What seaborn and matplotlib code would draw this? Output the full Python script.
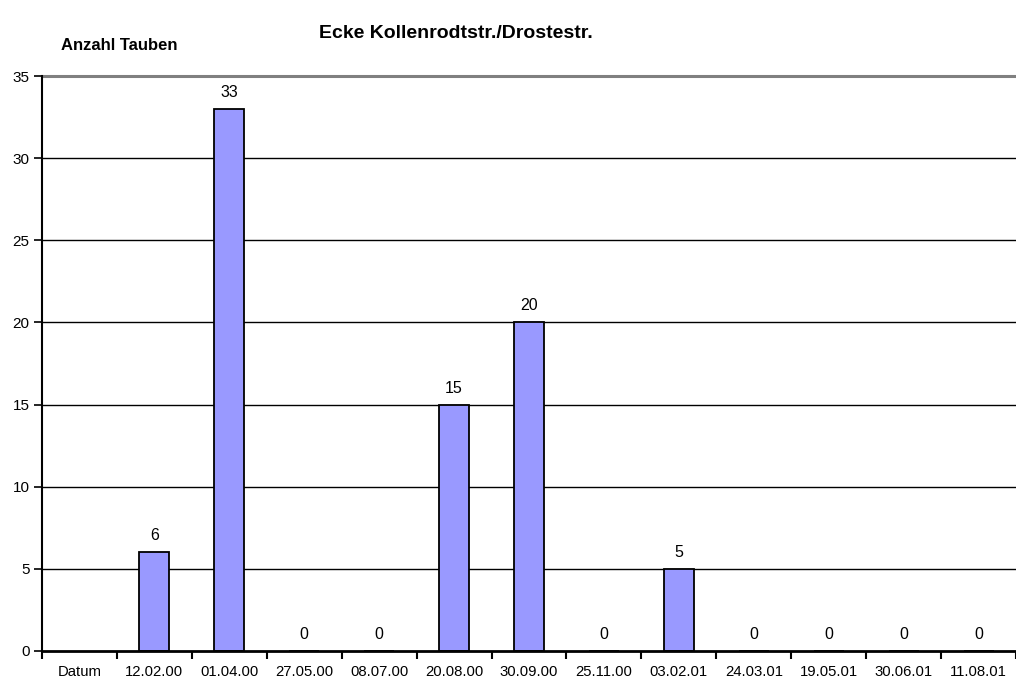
import numpy as np
import pandas as pd
import matplotlib
matplotlib.use("Agg")
import matplotlib.pyplot as plt
import seaborn as sns
from matplotlib.ticker import FixedLocator

sns.set_theme(style="white")
plt.rcParams['font.family'] = ['Liberation Sans', 'DejaVu Sans']
plt.rcParams['text.color'] = 'black'
plt.rcParams['xtick.color'] = 'black'
plt.rcParams['ytick.color'] = 'black'

# Counts per survey date; the leading "Datum" slot carries no value
dates = ["Datum", "12.02.00", "01.04.00", "27.05.00", "08.07.00", "20.08.00",
         "30.09.00", "25.11.00", "03.02.01", "24.03.01", "19.05.01",
         "30.06.01", "11.08.01"]
counts = [np.nan, 6, 33, 0, 0, 15, 20, 0, 5, 0, 0, 0, 0]

title = "Ecke Kollenrodtstr./Drostestr."
ylabel = "Anzahl Tauben"
yticks = [0, 5, 10, 15, 20, 25, 30, 35]

df = pd.DataFrame({"Datum": dates, "Anzahl": counts})

fig = plt.figure(figsize=(10.16, 6.84), dpi=100)
ax = fig.add_axes([42 / 1016, 33 / 684, 1 - 42 / 1016, (651 - 76) / 684])

sns.barplot(data=df, x="Datum", y="Anzahl", order=dates, color="#9999FF",
            saturation=1, edgecolor="black", linewidth=1.3, width=0.4,
            errorbar=None, ax=ax, zorder=3)

ax.set_xlim(-0.5, len(dates) - 0.5)
ax.set_ylim(0, 35)

# horizontal gridlines
for v in yticks[1:-1]:
    ax.axhline(v, color="black", lw=1.0, zorder=1)
ax.axhline(35, color="#808080", lw=2.2, zorder=1, clip_on=False)

# value labels above the bars
for i, v in enumerate(counts):
    if not np.isnan(v):
        ax.text(i, v + 0.55, f"{int(v)}", ha="center", va="bottom",
                fontsize=11.5, color="black", zorder=4)

ax.set_xlabel("")
ax.set_ylabel("")
ax.set_yticks(yticks)
ax.set_yticklabels([str(t) for t in yticks], fontsize=11)
ax.set_xticks(range(len(dates)))
ax.set_xticklabels(dates, fontsize=10.7)
ax.tick_params(axis="x", which="major", length=0, pad=10, colors="black")
ax.xaxis.set_minor_locator(FixedLocator(np.arange(-0.5, len(dates), 1.0)))
ax.tick_params(axis="x", which="minor", length=6, width=1.5, direction="out",
               color="black", bottom=True)
ax.tick_params(axis="y", length=6, width=1.2, direction="out", pad=3,
               colors="black", left=True)

for s in ["top", "right"]:
    ax.spines[s].set_visible(False)
ax.spines["left"].set_color("black")
ax.spines["left"].set_linewidth(1.5)
ax.spines["bottom"].set_color("black")
ax.spines["bottom"].set_linewidth(2.0)
ax.spines["bottom"].set_zorder(5)

fig.text(456 / 1016, 1 - 33 / 684, title, ha="center", va="center",
         fontsize=14, fontweight="bold", color="black")
fig.text(61 / 1016, 1 - 46 / 684, ylabel, ha="left", va="center",
         fontsize=12, fontweight="bold", color="black")

fig.savefig("out.png", dpi=100, facecolor="white")
